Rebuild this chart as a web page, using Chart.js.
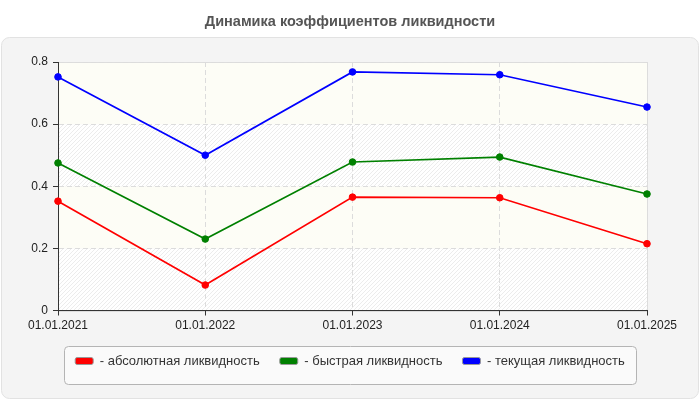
<!DOCTYPE html>
<html lang="ru">
<head>
<meta charset="utf-8">
<title>Динамика коэффициентов ликвидности</title>
<script src="https://cdn.jsdelivr.net/npm/chart.js@4.4.1/dist/chart.umd.min.js"></script>
<style>
  html, body { margin: 0; padding: 0; background: #fff; }
  canvas { display: block; }
</style>
</head>
<body>
<canvas id="chart" width="700" height="400"></canvas>
<script>
const dates = ["01.01.2021", "01.01.2022", "01.01.2023", "01.01.2024", "01.01.2025"];
const absolutnaya = [0.352, 0.082, 0.365, 0.363, 0.215];
const bystraya = [0.475, 0.230, 0.478, 0.494, 0.375];
const tekushaya = [0.752, 0.500, 0.768, 0.759, 0.655];
const yTicks = [0, 0.2, 0.4, 0.6, 0.8];

Chart.defaults.font.family = "'Liberation Sans', Arial, sans-serif";
Chart.defaults.font.size = 12;

// штриховка для полос
const hatch = document.createElement("canvas");
hatch.width = 4;
hatch.height = 4;
const hctx = hatch.getContext("2d");
hctx.fillStyle = "#ffffff";
hctx.fillRect(0, 0, 4, 4);
hctx.strokeStyle = "#ececec";
hctx.lineWidth = 1;
hctx.beginPath();
hctx.moveTo(0, 4); hctx.lineTo(4, 0);
hctx.moveTo(-1, 1); hctx.lineTo(1, -1);
hctx.moveTo(3, 5); hctx.lineTo(5, 3);
hctx.stroke();

function roundRect(ctx, x, y, w, h, r) {
  ctx.beginPath();
  ctx.moveTo(x + r, y);
  ctx.arcTo(x + w, y, x + w, y + h, r);
  ctx.arcTo(x + w, y + h, x, y + h, r);
  ctx.arcTo(x, y + h, x, y, r);
  ctx.arcTo(x, y, x + w, y, r);
  ctx.closePath();
}

const backdrop = {
  id: "backdrop",
  beforeDraw(chart) {
    const ctx = chart.ctx;
    const area = chart.chartArea;
    const y = chart.scales.y;
    ctx.save();
    // панель
    roundRect(ctx, 1.5, 37.5, 697, 361, 8);
    ctx.fillStyle = "#f4f4f4";
    ctx.fill();
    ctx.strokeStyle = "#e2e2e2";
    ctx.lineWidth = 1;
    ctx.stroke();

    // полосы
    const pattern = ctx.createPattern(hatch, "repeat");
    for (let i = 0; i < yTicks.length - 1; i++) {
      const y0 = y.getPixelForValue(yTicks[i]);
      const y1 = y.getPixelForValue(yTicks[i + 1]);
      ctx.fillStyle = i % 2 === 0 ? pattern : "#fdfdf6";
      ctx.fillRect(area.left, y1, area.right - area.left, y0 - y1);
    }
    ctx.strokeStyle = "#dddddd";
    ctx.strokeRect(Math.round(area.left) + 0.5, Math.round(area.top) + 0.5,
      Math.round(area.right - area.left), Math.round(area.bottom - area.top));

    // рамка легенды
    const lg = chart.legend;
    const pad = lg.options.labels.padding;
    const L = lg.lineWidths[0];
    const start = (lg.left + pad + lg.right - L) / 2;
    const end = start + L - pad;
    const cy = lg.top + pad + 6.5;
    roundRect(ctx, Math.round(start - 11) + 0.5, Math.round(cy - 15.5) + 0.5,
      Math.round(end - start + 22), 38, 4);
    ctx.fillStyle = "#fafafa";
    ctx.fill();
    ctx.strokeStyle = "#b4b4b4";
    ctx.stroke();
    ctx.restore();
  }
};

const ctx = document.getElementById("chart").getContext("2d");

const chart = new Chart(ctx, {
  type: "line",
  data: {
    labels: dates,
    datasets: [
      { label: "- абсолютная ликвидность", data: absolutnaya, borderColor: "#ff0000", backgroundColor: "#ff0000" },
      { label: "- быстрая ликвидность", data: bystraya, borderColor: "#008000", backgroundColor: "#008000" },
      { label: "- текущая ликвидность", data: tekushaya, borderColor: "#0000ff", backgroundColor: "#0000ff" }
    ]
  },
  options: {
    responsive: false,
    animation: false,
    devicePixelRatio: 1,
    layout: { padding: { left: 0, right: 0, top: 0, bottom: 22.5 } },
    elements: {
      line: { borderWidth: 1.7, tension: 0 },
      point: { radius: 3.3, borderWidth: 1, hoverRadius: 3.3 }
    },
    plugins: {
      title: {
        display: true,
        text: "Динамика коэффициентов ликвидности",
        color: "#555",
        font: { size: 14.5, weight: "bold" },
        padding: { top: 13, bottom: 31.6 }
      },
      legend: {
        position: "bottom",
        labels: {
          padding: 20,
          boxWidth: 18,
          boxHeight: 7,
          color: "#333",
          font: { size: 13 },
          useBorderRadius: true,
          borderRadius: 2,
          generateLabels(chart) {
            return chart.data.datasets.map((ds, i) => ({
              text: ds.label,
              fillStyle: ds.backgroundColor,
              strokeStyle: "#999",
              lineWidth: 1,
              borderRadius: 2,
              fontColor: "#333",
              datasetIndex: i,
              hidden: false
            }));
          }
        }
      },
      tooltip: { enabled: false }
    },
    scales: {
      x: {
        grid: { color: "#dcdcdc", tickColor: "#333", tickLength: 5 },
        border: { color: "#333", dash: [5, 3] },
        ticks: { color: "#222", maxRotation: 0, autoSkip: false, padding: 3 },
        afterFit(scale) {
          scale.height = 24;
          scale.paddingRight = 53;
        }
      },
      y: {
        min: 0,
        max: 0.8,
        afterBuildTicks(scale) {
          scale.ticks = yTicks.map(v => ({ value: v }));
        },
        grid: { color: "#dcdcdc", tickColor: "#333", tickLength: 5 },
        border: { color: "#333", dash: [5, 3] },
        ticks: { color: "#222", padding: 5 },
        afterFit(scale) {
          scale.width = 58;
        }
      }
    }
  },
  plugins: [backdrop]
});
</script>
</body>
</html>
